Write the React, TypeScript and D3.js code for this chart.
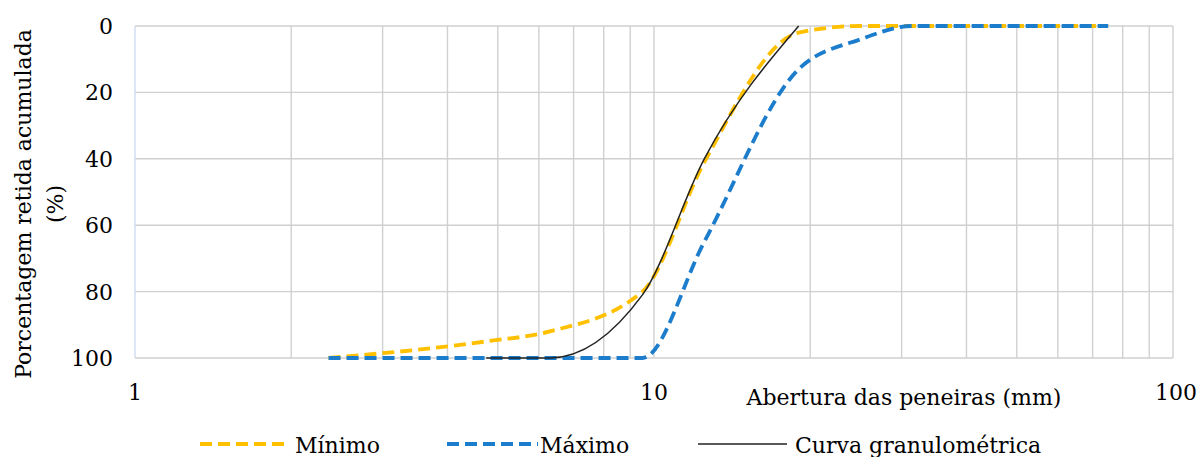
import * as d3 from 'd3';

// peneiras (mm) e porcentagens retidas acumuladas
const sieves = [2.36, 4.75, 6.3, 9.5, 12.5, 19, 25, 31.5, 37.5, 50, 63, 75];
const minimo = [100, 95, 92, 80, 41, 2, 0, 0, 0, 0, 0, 0];
const maximo = [100, 100, 100, 100, 65, 13, 4, 0, 0, 0, 0, 0];
const curvaSieves = [4.75, 6.3, 9.5, 12.5, 19];
const curva = [100, 100, 81, 40, 0];

const xTicks = [1, 10, 100];
const yTicks = [0, 20, 40, 60, 80, 100];

const W = 1200;
const H = 457;
const font = "'DejaVu Serif', serif";
const yellow = '#ffc000';
const blue = '#1c7dcc';
const dash = '12,6';

export default function App() {
    const x = d3.scaleLog().domain([1, 100]).range([135, 1173]);
    const y = d3.scaleLinear().domain([0, 100]).range([26, 358]);

    const line = d3.line<[number, number]>()
        .x((d) => x(d[0]))
        .y((d) => y(d[1]))
        .curve(d3.curveMonotoneX);

    const minPts = sieves.map((s, i) => [s, minimo[i]] as [number, number]);
    const maxPts = sieves.map((s, i) => [s, maximo[i]] as [number, number]);
    const curvaPts = curvaSieves.map((s, i) => [s, curva[i]] as [number, number]);

    // minor grid: 2..9, 20..90
    const vGrid = [...d3.range(2, 11), ...d3.range(20, 101, 10)];

    return (
        <svg width={W} height={H} style={{ position: 'absolute', left: 0, top: 0, background: '#fff', fontFamily: font }}>
            {/* grid */}
            <g stroke="#d0d0d0" strokeWidth={1.4}>
                {yTicks.map((t) => (
                    <line key={'h' + t} x1={x(1)} x2={x(100)} y1={y(t)} y2={y(t)} />
                ))}
                {vGrid.map((t) => (
                    <line key={'v' + t} x1={x(t)} x2={x(t)} y1={y(0)} y2={y(100)} />
                ))}
            </g>
            <line x1={x(1)} x2={x(1)} y1={y(0)} y2={y(100)} stroke="#cddcef" strokeWidth={1.4} />

            {/* y ticks */}
            <g fontSize={22} fill="#000" textAnchor="end">
                {yTicks.map((t) => (
                    <text key={t} x={113} y={y(t) + 8}>{t}</text>
                ))}
            </g>
            {/* x ticks */}
            <g fontSize={22} fill="#000" textAnchor="middle">
                {xTicks.map((t) => (
                    <text key={t} x={x(t) + (t === 100 ? 3 : 0)} y={400}>{t}</text>
                ))}
            </g>

            {/* axis titles */}
            <text x={904} y={405} fontSize={22} textAnchor="middle">Abertura das peneiras (mm)</text>
            <g transform="translate(23,204) rotate(-90)" fontSize={22} textAnchor="middle">
                <text x={0} y={8}>Porcentagem retida acumulada</text>
                <text x={0} y={40}>(%)</text>
            </g>

            {/* series */}
            <path d={line(minPts) ?? ''} fill="none" stroke={yellow} strokeWidth={3.8} strokeDasharray={dash} />
            <path d={line(maxPts) ?? ''} fill="none" stroke={blue} strokeWidth={3.8} strokeDasharray={dash} />
            <path d={line(curvaPts) ?? ''} fill="none" stroke="#222" strokeWidth={1.5} />

            {/* legend */}
            <g fontSize={22}>
                <line x1={200} x2={290} y1={444} y2={444} stroke={yellow} strokeWidth={3.8} strokeDasharray={dash} />
                <text x={295} y={453}>Mínimo</text>
                <line x1={447} x2={538} y1={444} y2={444} stroke={blue} strokeWidth={3.8} strokeDasharray={dash} />
                <text x={540} y={453}>Máximo</text>
                <line x1={698} x2={787} y1={444} y2={444} stroke="#222" strokeWidth={1.5} />
                <text x={795} y={453}>Curva granulométrica</text>
            </g>
        </svg>
    );
}
